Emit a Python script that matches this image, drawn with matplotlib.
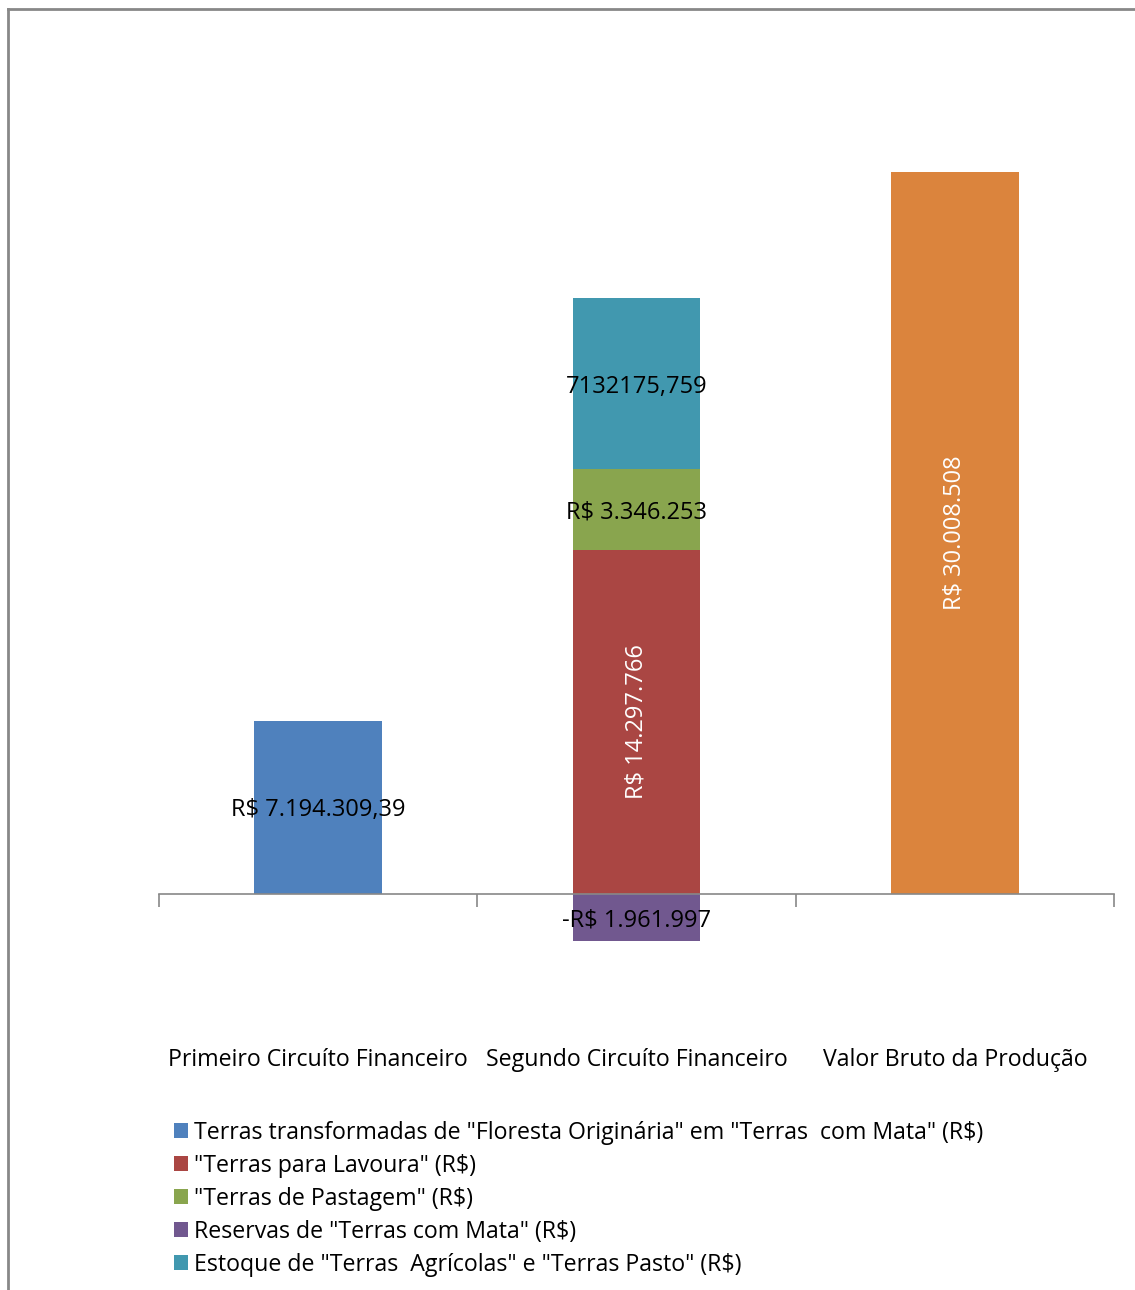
import matplotlib.pyplot as plt
from matplotlib.lines import Line2D
import numpy as np

plt.rcParams['font.family'] = ['Open Sans', 'DejaVu Sans']

categories = ['Primeiro Circuíto Financeiro', 'Segundo Circuíto Financeiro', 'Valor Bruto da Produção']

series_names = [
    'Terras transformadas de "Floresta Originária" em "Terras  com Mata" (R$)',
    '"Terras para Lavoura" (R$)',
    '"Terras de Pastagem" (R$)',
    'Reservas de "Terras com Mata" (R$)',
    'Estoque de "Terras  Agrícolas" e "Terras Pasto" (R$)',
    'Valor Bruto da Produção (R$)',
]
terras_transformadas = [7194309.39, 0, 0]
terras_lavoura = [0, 14297766, 0]
terras_pastagem = [0, 3346253, 0]
reservas_mata = [0, -1961997, 0]
estoque_terras = [0, 7132175.759, 0]
valor_bruto = [0, 0, 30008508]

label_texts = [
    ['R$ 7.194.309,39', None, None],
    [None, 'R$ 14.297.766', None],
    [None, 'R$ 3.346.253', None],
    [None, '-R$ 1.961.997', None],
    [None, '7132175,759', None],
    [None, None, 'R$ 30.008.508'],
]
colors = ['#4F81BD', '#AA4643', '#89A54E', '#71588F', '#4198AF', '#DB843D']
label_colors = ['black', 'white', 'black', 'black', 'black', 'white']
label_rot = [0, 90, 0, 0, 0, 90]
in_legend = [True, True, True, True, True, False]

all_series = [terras_transformadas, terras_lavoura, terras_pastagem,
              reservas_mata, estoque_terras, valor_bruto]

fig = plt.figure(figsize=(11.35, 12.9), dpi=100)
ax = fig.add_axes([159 / 1135, (1290 - 1038) / 1290, 955 / 1135, 1010 / 1290])

x = np.arange(len(categories))
pos_base = np.zeros(len(categories))
neg_base = np.zeros(len(categories))
handles = []
for i, vals in enumerate(all_series):
    vals = np.array(vals, dtype=float)
    bottom = np.where(vals >= 0, pos_base, neg_base)
    bars = ax.bar(x, vals, width=0.4, bottom=bottom, color=colors[i],
                  label=series_names[i])
    for j, b in enumerate(bars):
        txt = label_texts[i][j]
        if txt is None:
            continue
        cy = bottom[j] + vals[j] / 2
        va = 'center_baseline' if label_rot[i] == 0 else 'center'
        ax.text(x[j], cy, txt, ha='center', va=va, color=label_colors[i],
                rotation=label_rot[i], fontsize=17)
    pos_base = pos_base + np.where(vals > 0, vals, 0)
    neg_base = neg_base + np.where(vals < 0, vals, 0)
    if in_legend[i]:
        handles.append(bars)

ax.set_xlim(-0.5, 2.5)
ax.set_ylim(-6e6, 36e6)
for s in ['left', 'right', 'top']:
    ax.spines[s].set_visible(False)
ax.spines['bottom'].set_position(('data', 0))
ax.spines['bottom'].set_color('#888888')
ax.spines['bottom'].set_linewidth(1.2)
ax.set_yticks([])
ax.set_xticks([-0.5, 0.5, 1.5, 2.5])
ax.set_xticklabels([])
ax.tick_params(axis='x', length=9, color='#888888', width=1.2)
for j, c in enumerate(categories):
    ax.text(x[j], -6.9e6, c, ha='center', va='center', fontsize=16.7)

fig.legend(handles=handles, loc='upper left', bbox_to_anchor=(162 / 1135, 1 - 1109 / 1290),
           frameon=False, fontsize=16.7, handlelength=0.6, handleheight=0.6,
           handletextpad=0.3, labelspacing=0.39, borderpad=0)

# outer chart border (top and left edges visible)
fig.add_artist(Line2D([8 / 1135, 8 / 1135], [0, 1 - 9 / 1290], color='#888888', lw=2))
fig.add_artist(Line2D([8 / 1135, 1], [1 - 9 / 1290, 1 - 9 / 1290], color='#888888', lw=2))

fig.savefig('out.png', dpi=100)
